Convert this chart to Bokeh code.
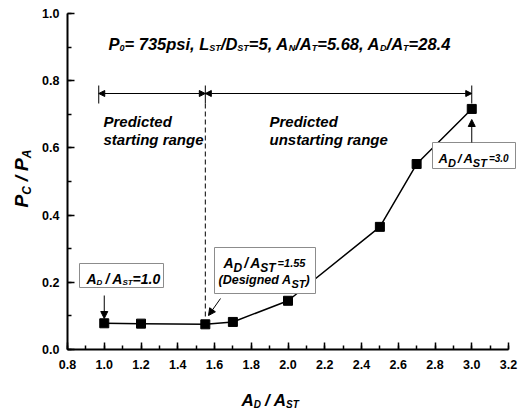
import math
from bokeh.plotting import figure
from bokeh.embed import file_html
from bokeh.resources import INLINE
from bokeh.models import (Label, Arrow, NormalHead, BoxAnnotation, Range1d,
                          SingleIntervalTicker, PrintfTickFormatter)

# ---- data ----
ratio_ad_ast = [1.0, 1.2, 1.55, 1.7, 2.0, 2.5, 2.7, 3.0]
pc_pa = [0.078, 0.077, 0.075, 0.082, 0.145, 0.365, 0.552, 0.716]
x_limits = [0.8, 3.2]
y_limits = [0.0, 1.0]
starting_range = [0.97, 1.55]
unstarting_range = [1.55, 3.0]

FONT = "Liberation Sans"
W_PX, H_PX = 519, 410
# frame pixel placement of the axis limits
PX_L, PX_R, PX_T, PX_B = 67, 508, 13, 349
KX = (PX_R - PX_L) / (x_limits[1] - x_limits[0])
KY = (PX_B - PX_T) / (y_limits[1] - y_limits[0])

def xr(px):
    return x_limits[0] + (px - PX_L) / KX

def yr(py):
    return y_limits[0] + (PX_B - py) / KY

p = figure(width=W_PX, height=H_PX, output_backend="svg", toolbar_location=None,
           x_range=Range1d(xr(0), xr(W_PX)), y_range=Range1d(yr(H_PX), yr(0)),
           min_border=0, min_border_left=0, min_border_right=0,
           min_border_top=0, min_border_bottom=0)
p.outline_line_color = None
p.xgrid.visible = False
p.ygrid.visible = False
p.background_fill_color = "white"
p.border_fill_color = "white"

p.xaxis[0].fixed_location = y_limits[0]
p.yaxis[0].fixed_location = x_limits[0]
p.xaxis[0].bounds = tuple(x_limits)
p.yaxis[0].bounds = tuple(y_limits)

for ax in (p.xaxis[0], p.yaxis[0]):
    ax.ticker = SingleIntervalTicker(interval=0.2, num_minor_ticks=2)
    ax.formatter = PrintfTickFormatter(format="%.1f")
    ax.axis_line_width = 2
    ax.axis_line_color = "black"
    ax.major_tick_in = 7
    ax.major_tick_out = 0
    ax.minor_tick_in = 4
    ax.minor_tick_out = 0
    ax.major_tick_line_width = 1.5
    ax.minor_tick_line_width = 1.5
    ax.major_tick_line_color = "black"
    ax.minor_tick_line_color = "black"
    ax.major_label_text_font = FONT
    ax.major_label_text_font_style = "bold"
    ax.major_label_text_font_size = "12.5px"
    ax.major_label_text_color = "black"
p.xaxis[0].major_label_standoff = 10
p.yaxis[0].major_label_standoff = 8

# ---- series ----
p.line(ratio_ad_ast, pc_pa, line_color="black", line_width=1.5)
p.scatter(ratio_ad_ast, pc_pa, marker="square", size=9, fill_color="black", line_color="black")

# ---- range arrows ----
ya = yr(93)
for a, b in (starting_range, unstarting_range):
    p.add_layout(Arrow(x_start=a, y_start=ya, x_end=b, y_end=ya, line_width=1, line_color="black",
                       start=NormalHead(size=6, fill_color="black", line_color="black"),
                       end=NormalHead(size=6, fill_color="black", line_color="black")))
for xv in (starting_range[0], starting_range[1], unstarting_range[1]):
    p.segment(x0=xv, y0=yr(103), x1=xv, y1=yr(85), line_color="black", line_width=1)
p.segment(x0=starting_range[1], y0=yr(103), x1=starting_range[1], y1=yr(318),
          line_color="black", line_width=1, line_dash="5 3")

# ---- rich text helper ----
W = {' ': 278, '!': 333, '(': 333, ')': 333, ',': 278, '-': 333, '.': 278, '/': 278,
     '=': 584, 'A': 722, 'C': 722, 'D': 722, 'L': 611, 'N': 722, 'P': 667, 'S': 667, 'T': 611,
     'a': 556, 'c': 556, 'd': 611, 'e': 556, 'g': 611, 'i': 278, 'n': 611, 'p': 611, 'r': 389,
     's': 556, 't': 333, 'u': 611}

def tw(s, size):
    return sum(W.get(c, 556) for c in s) * size / 1000.0

def rich(x, y, segs, angle=0.0):
    adv = 0.0
    for text, size, drop, gap in segs:
        adv += gap
        if angle == 0:
            xo, yo = adv, -drop
        else:
            xo, yo = drop, adv
        p.add_layout(Label(x=x, y=y, x_offset=xo, y_offset=yo, text=text,
                           text_font=FONT, text_font_style="bold italic",
                           text_font_size=f"{size}px", text_color="black",
                           text_align="left", text_baseline="alphabetic", angle=angle))
        adv += tw(text, size)

# title
M, S, d = 16.5, 9, 4
rich(xr(108), yr(43), [("P", M, 0, 0), ("0", S, d, 0), ("= 735psi, L", M, 0, 0), ("ST", S, d, 0),
                       ("/D", M, 0, 0), ("ST", S, d, 0), ("=5, A", M, 0, 0), ("N", S, d, 0),
                       ("/A", M, 0, 0), ("T", S, d, 0), ("=5.68, A", M, 0, 0), ("D", S, d, 0),
                       ("/A", M, 0, 0), ("T", S, d, 0), ("=28.4", M, 0, 0)])

# range texts
rich(xr(103), yr(121), [("Predicted", 15, 0, 0)])
rich(xr(103), yr(139), [("starting range", 15, 0, 0)])
rich(xr(269), yr(121), [("Predicted", 15, 0, 0)])
rich(xr(269), yr(139), [("unstarting range", 15, 0, 0)])

# boxes
def box(l, t, r, b):
    p.add_layout(BoxAnnotation(left=xr(l), right=xr(r), top=yr(t), bottom=yr(b),
                               fill_color="white", fill_alpha=1.0, line_color="#8c8c8c",
                               line_width=1, line_alpha=1.0))

box(79, 263, 163, 287)
rich(xr(86), yr(278), [("A", 14, 0, 0), ("D", 8, 4, 0), ("/", 14, 0, 3), ("A", 14, 0, 3),
                       ("ST", 8, 4, 0), ("=1.0", 14, 0, 0)])

box(214, 247, 315, 293)
rich(xr(223), yr(262), [("A", 14, 0, 0), ("D", 12, 5, 0), ("/", 14, 0, 2), ("A", 14, 0, 2),
                        ("ST", 12, 5, 0), ("=1.55", 11, 0, 2)])
rich(xr(218), yr(279), [("(Designed A", 12.5, 0, 0), ("ST", 11, 4, 0), (")", 12.5, 0, 0)])

box(432, 142, 515, 168)
rich(xr(438), yr(158), [("A", 13, 0, 0), ("D", 11, 4, 0), ("/", 13, 0, 2), ("A", 13, 0, 2),
                        ("ST", 11, 4, 0), ("=3.0", 10, 0, 2)])

# pointer arrows
def pointer(x0, y0, x1, y1):
    p.add_layout(Arrow(x_start=x0, y_start=y0, x_end=x1, y_end=y1, line_width=1, line_color="black",
                       end=NormalHead(size=7, fill_color="black", line_color="black")))

pointer(ratio_ad_ast[0], yr(295), ratio_ad_ast[0], yr(318))
pointer(xr(220), yr(298), xr(208), yr(315))
pointer(ratio_ad_ast[-1], yr(142), ratio_ad_ast[-1], yr(119))

# axis titles
rich(xr(241), yr(400), [("A", 17, 0, 0), ("D", 10, 4, 0), ("/", 17, 0, 4), ("A", 17, 0, 4),
                        ("ST", 10, 4, 0)])
rich(xr(21), yr(207), [("P", 19, 0, 0), ("C", 12, 5, 0), ("/", 19, 0, 5),
                       ("P", 19, 0, 5), ("A", 12, 5, 0)], angle=math.pi / 2)

open("out.html", "w").write(file_html(p, INLINE))
